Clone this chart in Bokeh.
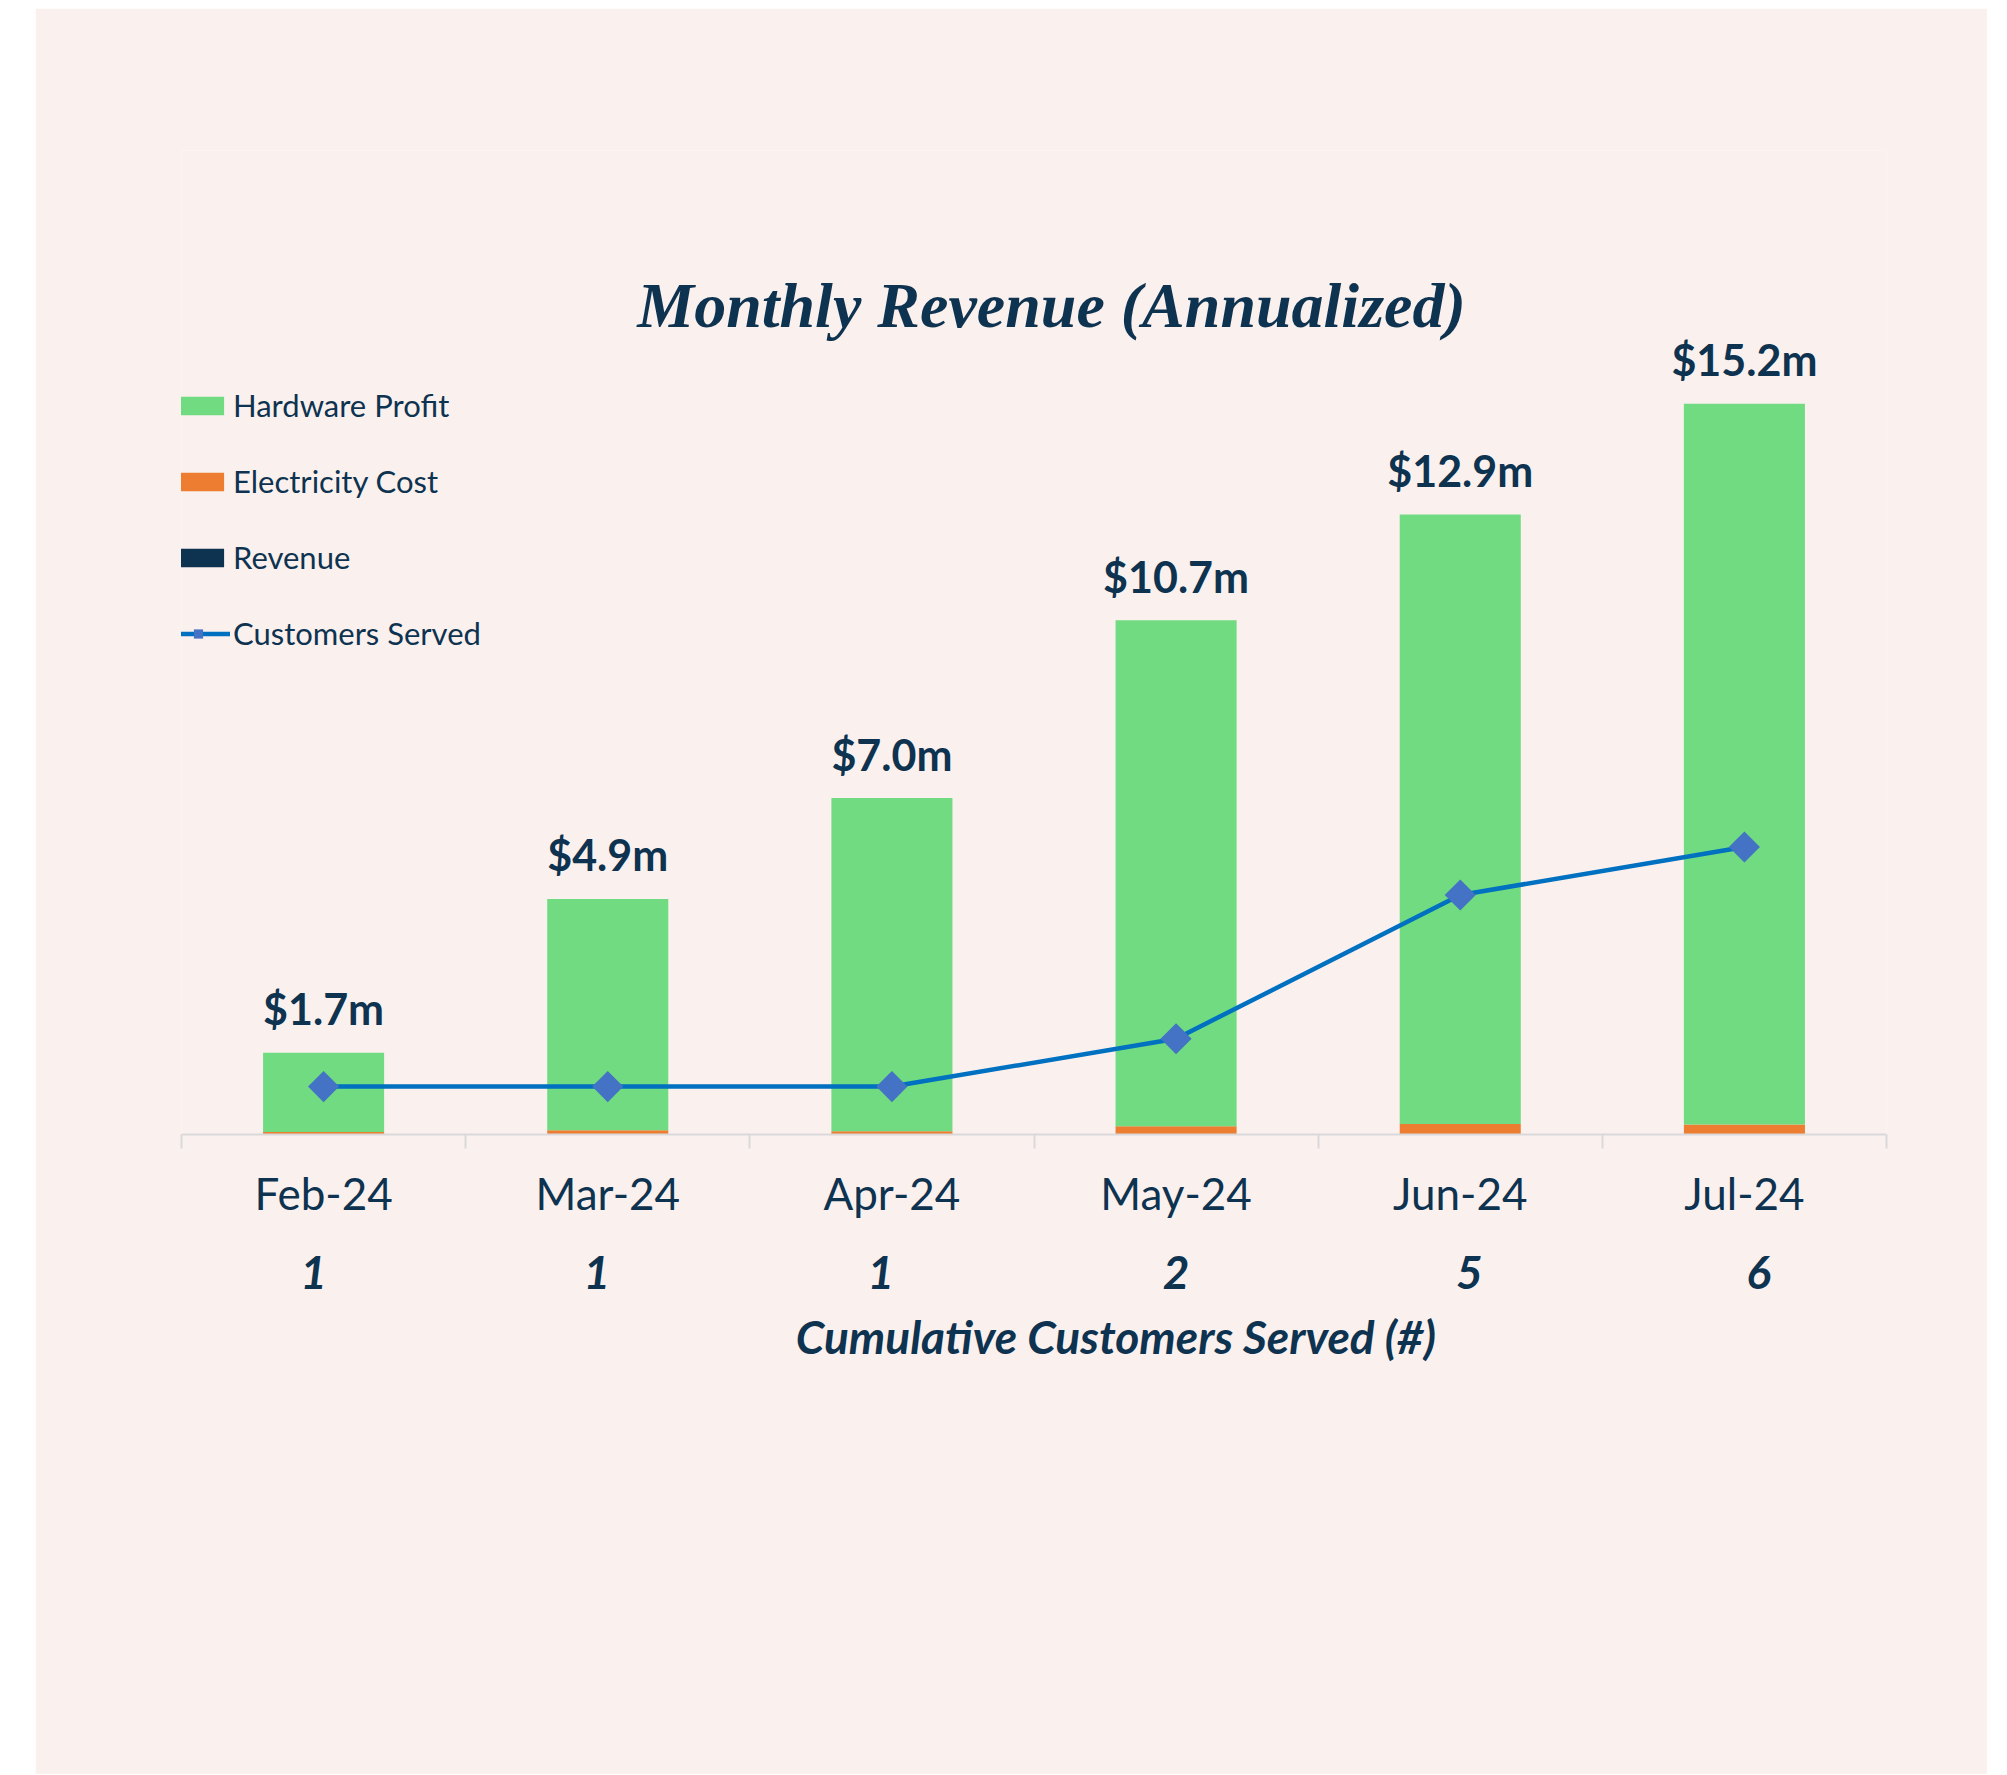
from bokeh.plotting import figure
from bokeh.models import (FactorRange, Range1d, LinearAxis, FixedTicker, Legend,
                          LegendItem, Label, ColumnDataSource, Spacer)
from bokeh.layouts import row, column
from bokeh.embed import file_html
from bokeh.resources import INLINE
from bokeh.core.properties import value

# ---------------- data ----------------
months = ["Feb-24", "Mar-24", "Apr-24", "May-24", "Jun-24", "Jul-24"]
revenue = [1.7, 4.9, 7.0, 10.7, 12.9, 15.2]            # $m annualized
electricity_cost = [0.05, 0.09, 0.07, 0.17, 0.22, 0.21]
hardware_profit = [1.65, 4.81, 6.93, 10.53, 12.68, 14.99]
customers = [1, 1, 1, 2, 5, 6]
x_title = "Cumulative Customers Served (#)"
chart_title = "Monthly Revenue (Annualized)"

# ---------------- style ----------------
BG = "#FAF1EE"
NAVY = "#0E3350"
GREEN = "#70DB80"
ORANGE = "#ED7D31"
LINE = "#0070C0"
MARK = "#4472C4"
GRID = "#D9D9D9"
SANS = "Lato"

FIG_W, FIG_H = 1952, 1766
CAT_PX = 284.17                       # pixel width of one category
number_nudge_px = [-10, -11, -11, 0, 9, 14]   # hand-placed look of the count labels

src = ColumnDataSource(dict(
    month=months, elec=electricity_cost, hw=hardware_profit, revenue=revenue,
    cust=customers, rev_label=[f"${v:.1f}m" for v in revenue],
))

p = figure(width=FIG_W, height=FIG_H,
           x_range=FactorRange(*months), y_range=Range1d(0, 20.47),
           x_axis_location=None, y_axis_location=None,
           output_backend="svg", toolbar_location=None,
           background_fill_color=BG, border_fill_color=BG,
           outline_line_color=None,
           min_border_left=146, min_border_right=101,
           min_border_top=142, min_border_bottom=640)
p.extra_y_ranges = {"cust": Range1d(0, 20.54)}
p.xgrid.visible = False
p.ygrid.visible = False

stack = p.vbar_stack(["elec", "hw"], x="month", width=0.426, source=src,
                     fill_color=[ORANGE, GREEN], line_color=None)
r_rev = p.vbar(x="month", top="revenue", bottom="revenue", width=0.426,
               source=src, fill_color=NAVY, line_color=None)

r_line = p.line(x="month", y="cust", y_range_name="cust", source=src,
                line_color=LINE, line_width=4.5)
r_pts = p.scatter(x="month", y="cust", y_range_name="cust", source=src,
                  marker="square", angle=0.785398, size=22,
                  fill_color=MARK, line_color=None)

p.text(x="month", y="revenue", text="rev_label", source=src,
       text_font=value(SANS), text_font_style="bold", text_font_size="43px",
       text_color=NAVY, text_align="center", text_baseline="alphabetic",
       y_offset=-44)

legend = Legend(items=[
    LegendItem(label="Hardware Profit", renderers=[stack[1]]),
    LegendItem(label="Electricity Cost", renderers=[stack[0]]),
    LegendItem(label="Revenue", renderers=[r_rev]),
    LegendItem(label="Customers Served", renderers=[r_line, r_pts]),
], location=(-15, 482), orientation="vertical",
    glyph_width=64, glyph_height=23, label_height=38, spacing=38,
    padding=0, margin=0, label_standoff=3,
    label_text_font=SANS, label_text_font_size="31px", label_text_color=NAVY,
    border_line_color=None, background_fill_alpha=0)
p.add_layout(legend, "center")

ticks = [i + 0.5 for i in range(len(months))]
bounds = list(range(len(months) + 1))

xaxis = LinearAxis(
    ticker=FixedTicker(ticks=ticks, minor_ticks=bounds),
    major_label_overrides={t: m for t, m in zip(ticks, months)},
    axis_line_color=GRID, axis_line_width=2,
    major_tick_line_color=None, major_tick_in=0, major_tick_out=0,
    minor_tick_line_color=GRID, minor_tick_line_width=2,
    minor_tick_in=0, minor_tick_out=14,
    major_label_text_font=SANS, major_label_text_font_size="44px",
    major_label_text_color=NAVY, major_label_standoff=18)
p.add_layout(xaxis, "below")

cticks = [t + n / CAT_PX for t, n in zip(ticks, number_nudge_px)]
caxis = LinearAxis(
    ticker=FixedTicker(ticks=cticks, minor_ticks=[]),
    major_label_overrides={t: str(c) for t, c in zip(cticks, customers)},
    axis_line_color=None, major_tick_line_color=None, minor_tick_line_color=None,
    major_tick_in=0, major_tick_out=0, minor_tick_in=0, minor_tick_out=0,
    major_label_text_font=SANS, major_label_text_font_style="bold italic",
    major_label_text_font_size="46px", major_label_text_color=NAVY,
    major_label_standoff=34)
p.add_layout(caxis, "below")

# x-axis title, centred slightly right of the plot centre as in the original
title_pos = 3.288
taxis = LinearAxis(
    ticker=FixedTicker(ticks=[title_pos], minor_ticks=[]),
    major_label_overrides={title_pos: x_title},
    axis_line_color=None, major_tick_line_color=None, minor_tick_line_color=None,
    major_tick_in=0, major_tick_out=0, minor_tick_in=0, minor_tick_out=0,
    major_label_text_font=SANS, major_label_text_font_style="bold italic",
    major_label_text_font_size="46px", major_label_text_color=NAVY,
    major_label_standoff=17)
p.add_layout(taxis, "below")

p.add_layout(Label(x=870, y=829, x_units="screen", y_units="screen",
                   text=chart_title,
                   text_font="Liberation Serif", text_font_style="bold italic",
                   text_font_size="64px", text_color=NAVY,
                   text_align="center", text_baseline="alphabetic"))

layout = column(Spacer(width=10, height=8),
                row(Spacer(width=35, height=FIG_H), p))
open("out.html", "w").write(file_html(layout, INLINE))
